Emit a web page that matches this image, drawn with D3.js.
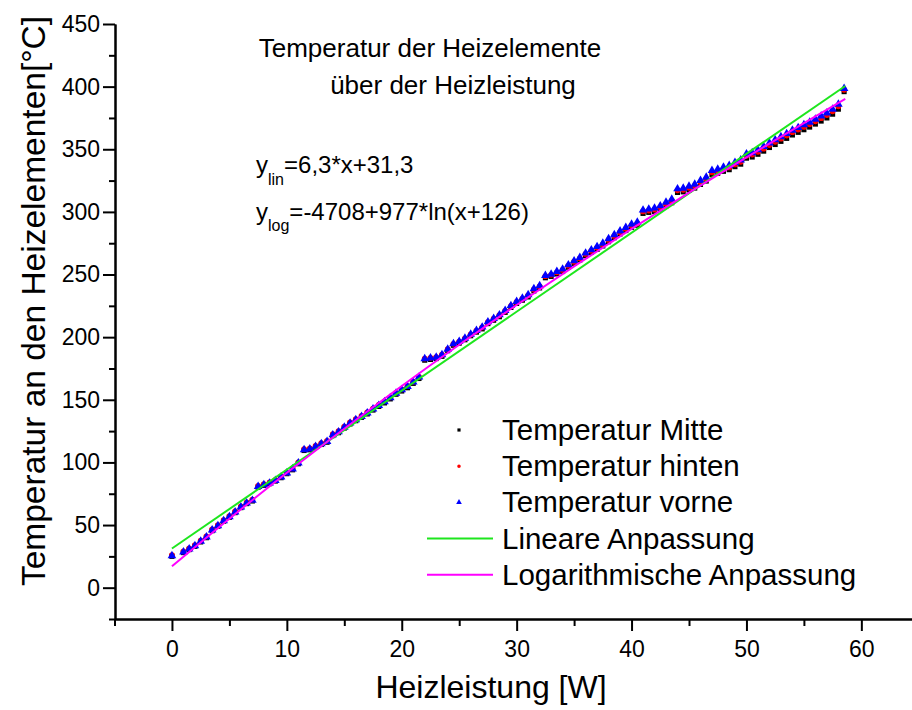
<!DOCTYPE html>
<html>
<head>
<meta charset="utf-8">
<script src="https://cdn.jsdelivr.net/npm/d3@7"></script>
<style>
  body { margin: 0; background: #fff; }
  svg { display: block; font-family: "Liberation Sans", Arial, sans-serif; }
</style>
</head>
<body>
<div id="chart"></div>
<script>
// Heating power [W]
const power = [0, 1, 1.5, 2, 2.5, 3, 3.5, 4, 4.5, 5, 5.5, 6, 6.5, 7, 7.5, 8, 8.5, 9, 9.5, 10,
  10.5, 11, 11.5, 12, 12.5, 13, 13.5, 14, 14.5, 15, 15.5, 16, 16.5, 17, 17.5, 18, 18.5, 19, 19.5, 20,
  20.5, 21, 21.5, 22, 22.5, 23, 23.5, 24, 24.5, 25, 25.5, 26, 26.5, 27, 27.5, 28, 28.5, 29, 29.5, 30,
  30.5, 31, 31.5, 32, 32.5, 33, 33.5, 34, 34.5, 35, 35.5, 36, 36.5, 37, 37.5, 38, 38.5, 39, 39.5, 40,
  40.5, 41, 41.5, 42, 42.5, 43, 43.5, 44, 44.5, 45, 45.5, 46, 46.5, 47, 47.5, 48, 48.5, 49, 49.5, 50,
  50.5, 51, 51.5, 52, 52.5, 53, 53.5, 54, 54.5, 55, 55.5, 56, 56.5, 57, 57.5, 58, 58.5];

// Temperatures [°C]
const tempMitte = [25.0, 28.0, 30.4, 33.0, 36.5, 39.9, 45.5, 49.0, 53.0, 56.2,
  59.9, 63.9, 67.1, 69.2, 80.2, 81.7, 83.0, 85.1, 87.8, 91.0,
  94.1, 98.9, 109.5, 110.1, 112.1, 114.3, 116.1, 121.4, 123.7, 127.4,
  130.7, 133.3, 136.0, 138.7, 141.8, 144.7, 147.5, 150.7, 154.4, 157.0,
  159.6, 163.1, 167.0, 181.6, 182.2, 182.9, 184.7, 189.2, 193.5, 195.2,
  197.9, 201.1, 204.0, 206.6, 210.8, 213.5, 216.3, 219.8, 223.7, 226.9,
  229.5, 232.1, 236.9, 239.3, 247.4, 248.5, 250.5, 252.4, 255.8, 258.9,
  261.6, 265.0, 267.6, 270.1, 272.8, 276.2, 279.4, 282.4, 285.1, 287.7,
  289.3, 298.8, 299.6, 300.3, 302.1, 304.9, 307.3, 315.5, 316.0, 317.5,
  319.0, 321.9, 324.6, 329.8, 330.8, 332.4, 333.7, 336.1, 338.1, 342.9,
  343.8, 346.0, 348.5, 351.4, 353.8, 356.3, 358.7, 361.4, 363.5, 365.6,
  367.7, 370.1, 372.5, 375.0, 378.0, 382.0, 396.0];

const tempHinten = [26.0, 29.0, 31.4, 34.0, 37.5, 40.9, 46.5, 50.0, 54.0, 57.2,
  60.9, 64.9, 68.1, 70.2, 81.3, 82.7, 84.0, 86.1, 88.8, 92.0,
  95.2, 100.0, 110.6, 111.2, 113.2, 115.4, 117.2, 122.5, 124.9, 128.6,
  131.9, 134.5, 137.2, 139.9, 143.0, 145.9, 148.8, 152.0, 155.6, 158.3,
  160.9, 164.4, 168.3, 182.9, 183.5, 184.1, 186.0, 190.4, 194.7, 196.5,
  199.1, 202.3, 205.2, 207.8, 212.0, 214.7, 217.5, 221.0, 224.9, 228.1,
  230.7, 233.4, 238.1, 240.5, 248.7, 249.8, 251.8, 253.7, 257.1, 260.2,
  262.9, 266.4, 268.9, 271.5, 274.1, 277.6, 280.8, 283.8, 286.5, 289.2,
  290.8, 300.4, 301.1, 301.9, 303.7, 306.5, 308.9, 317.2, 317.6, 319.2,
  320.7, 323.7, 326.3, 331.6, 332.6, 334.2, 335.5, 337.9, 340.0, 344.8,
  345.8, 348.0, 350.5, 353.4, 355.9, 358.4, 360.9, 363.6, 365.7, 367.8,
  369.9, 372.3, 374.8, 377.3, 380.3, 384.3, 397.5];

const tempVorne = [25.5, 28.5, 30.9, 33.5, 37.0, 40.4, 46.0, 49.5, 53.5, 56.7,
  60.4, 64.4, 67.6, 69.7, 80.8, 82.2, 83.5, 85.6, 88.3, 91.5,
  94.7, 99.5, 110.1, 110.7, 112.7, 114.9, 116.7, 122.0, 124.4, 128.1,
  131.4, 134.0, 136.7, 139.4, 142.6, 145.5, 148.4, 151.6, 155.3, 158.0,
  160.6, 164.1, 168.1, 182.7, 183.3, 184.0, 185.9, 190.4, 194.7, 196.5,
  199.2, 202.4, 205.3, 208.0, 212.2, 214.9, 217.8, 221.3, 225.2, 228.5,
  231.1, 233.8, 238.6, 241.0, 249.2, 250.3, 252.4, 254.3, 257.7, 260.9,
  263.6, 267.1, 269.7, 272.3, 275.0, 278.5, 281.7, 284.8, 287.5, 290.2,
  291.8, 301.4, 302.2, 303.0, 304.8, 307.7, 310.1, 318.4, 318.9, 320.5,
  322.0, 325.0, 327.7, 333.0, 334.0, 335.7, 337.0, 339.4, 341.5, 346.3,
  347.3, 349.5, 352.1, 355.0, 357.5, 360.0, 362.5, 365.2, 367.3, 369.5,
  371.6, 374.0, 376.5, 379.0, 382.0, 386.0, 398.5];

// Fit curves
const linFitX = [0, 58.6];
const linFitY = [31.3, 400.5];
const logFitX = [0, 5, 10, 15, 20, 25, 30, 35, 40, 45, 50, 55, 58.6];
const logFitY = [17.1, 55.1, 91.7, 126.9, 161.0, 193.9, 225.7, 256.5, 286.4, 315.4, 343.6, 370.9, 390.2];

// Ticks
const xTicks = [0, 10, 20, 30, 40, 50, 60];
const xMinor = [-5, 5, 15, 25, 35, 45, 55];
const yTicks = [0, 50, 100, 150, 200, 250, 300, 350, 400, 450];
const yMinor = [-25, 25, 75, 125, 175, 225, 275, 325, 375, 425];

const legendLabels = ["Temperatur Mitte", "Temperatur hinten", "Temperatur vorne",
  "Lineare Anpassung", "Logarithmische Anpassung"];

const width = 912, height = 710;

const svg = d3.select("#chart")
  .append("svg")
  .attr("width", width)
  .attr("height", height);

const x = d3.scaleLinear().domain([-5, 65]).range([114.5, 918.8]);
const y = d3.scaleLinear().domain([-25, 450]).range([619, 24]);

// Minor ticks
svg.append("g")
  .attr("class", "x-minor")
  .attr("transform", "translate(0,619)")
  .call(d3.axisBottom(x).tickValues(xMinor).tickSize(7).tickSizeOuter(0).tickFormat(""));
svg.append("g")
  .attr("class", "y-minor")
  .attr("transform", "translate(115,0)")
  .call(d3.axisLeft(y).tickValues(yMinor).tickSize(6).tickSizeOuter(0).tickFormat(""));

// Major axes
svg.append("g")
  .attr("class", "x-axis")
  .attr("transform", "translate(0,619)")
  .call(d3.axisBottom(x).tickValues(xTicks).tickSize(12).tickSizeOuter(0).tickPadding(10));

svg.append("g")
  .attr("class", "y-axis")
  .attr("transform", "translate(115,0)")
  .call(d3.axisLeft(y).tickValues(yTicks).tickSize(12).tickSizeOuter(0).tickPadding(3));

svg.selectAll(".x-axis path, .y-axis path, .x-minor path, .y-minor path, .tick line")
  .attr("stroke", "#000")
  .attr("stroke-width", 2);

svg.selectAll(".tick text")
  .style("font-size", "23px")
  .style("font-family", "Liberation Sans, Arial, sans-serif")
  .attr("fill", "#000");

// Axis titles
svg.append("text")
  .attr("x", 491)
  .attr("y", 698)
  .style("text-anchor", "middle")
  .style("font-size", "32px")
  .text("Heizleistung [W]");

svg.append("text")
  .attr("transform", "translate(45,301) rotate(-90)")
  .style("text-anchor", "middle")
  .style("font-size", "33.5px")
  .text("Temperatur an den Heizelementen[°C]");

// Title
svg.append("text")
  .attr("x", 430)
  .attr("y", 57)
  .style("text-anchor", "middle")
  .style("font-size", "26px")
  .text("Temperatur der Heizelemente");
svg.append("text")
  .attr("x", 453)
  .attr("y", 94)
  .style("text-anchor", "middle")
  .style("font-size", "26px")
  .text("über der Heizleistung");

// Fit equations
const eq1 = svg.append("text").attr("x", 256).attr("y", 173).style("font-size", "24px");
eq1.append("tspan").text("y");
eq1.append("tspan").attr("dy", 12).style("font-size", "16px").text("lin");
eq1.append("tspan").attr("dy", -12).text("=6,3*x+31,3");

const eq2 = svg.append("text").attr("x", 256).attr("y", 220).style("font-size", "24px");
eq2.append("tspan").text("y");
eq2.append("tspan").attr("dy", 11).style("font-size", "16px").text("log");
eq2.append("tspan").attr("dy", -11).text("=-4708+977*ln(x+126)");

// Data points
const series = [
  { values: tempMitte, color: "#000000", type: d3.symbolSquare, size: 26 },
  { values: tempHinten, color: "#ff0000", type: d3.symbolCircle, size: 26 },
  { values: tempVorne, color: "#0000ff", type: d3.symbolTriangle, size: 32 }
];

series.forEach((s) => {
  svg.append("g")
    .selectAll("path")
    .data(power)
    .enter().append("path")
    .attr("transform", (d, i) => "translate(" + x(d) + "," + y(s.values[i]) + ")")
    .attr("d", d3.symbol().type(s.type).size(s.size))
    .attr("fill", s.color);
});

// Fit lines
const line = d3.line()
  .x((d) => x(d[0]))
  .y((d) => y(d[1]));

svg.append("path")
  .datum(linFitX.map((v, i) => [v, linFitY[i]]))
  .attr("d", line)
  .attr("fill", "none")
  .attr("stroke", "#1ee61e")
  .attr("stroke-width", 2);

svg.append("path")
  .datum(logFitX.map((v, i) => [v, logFitY[i]]))
  .attr("d", line.curve(d3.curveMonotoneX))
  .attr("fill", "none")
  .attr("stroke", "#ff00ff")
  .attr("stroke-width", 2);

// Legend
const legend = svg.selectAll(".legend")
  .data(legendLabels)
  .enter().append("g")
  .attr("class", "legend")
  .attr("transform", (d, i) => "translate(0," + (430 + i * 36.2) + ")");

legend.append("text")
  .attr("x", 502)
  .attr("y", 10)
  .style("font-size", "29.5px")
  .text((d) => d);

legend.filter((d, i) => i < 3)
  .append("path")
  .attr("transform", "translate(459,0)")
  .attr("d", (d, i) => d3.symbol().type(series[i].type).size(i === 2 ? 14 : 10)())
  .attr("fill", (d, i) => series[i].color);

legend.filter((d, i) => i >= 3)
  .append("line")
  .attr("x1", 427)
  .attr("x2", 493)
  .attr("y1", 0)
  .attr("y2", 0)
  .attr("stroke", (d, i) => i === 0 ? "#1ee61e" : "#ff00ff")
  .attr("stroke-width", 2);
</script>
</body>
</html>
